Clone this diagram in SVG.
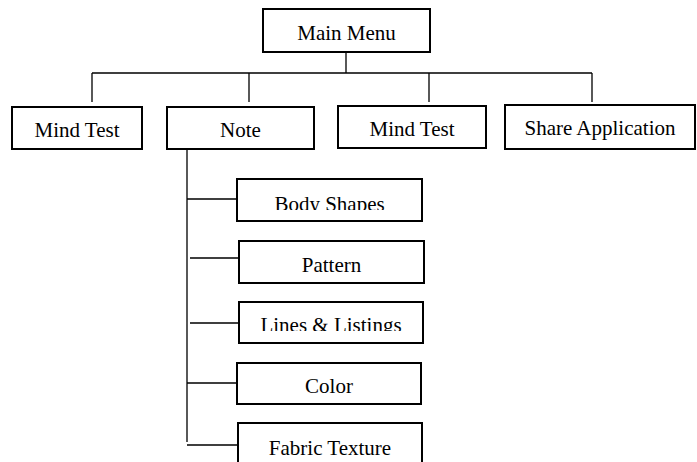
<svg xmlns="http://www.w3.org/2000/svg" width="697" height="462" viewBox="0 0 697 462">
<style>
.box{fill:#fff;stroke:#000;stroke-width:2}
.t{font-family:'Liberation Serif','Times New Roman',serif;font-size:21px;fill:#000;text-anchor:middle}
.c{stroke:#000;stroke-width:1.3;fill:none}
</style>
<defs>
<clipPath id="clipBody"><rect x="230" y="170" width="200" height="40"/></clipPath>
<clipPath id="clipLines"><rect x="230" y="295" width="200" height="36"/></clipPath>
</defs>
<rect width="697" height="462" fill="#fff"/>
<g id="connectors">
<path class="c" d="M346 52V73M92 73H592M92 73V102M249 73V102M429 73V102M592 73V102"/>
<path class="c" d="M187 149V442M187 199H237M190 258H239M190 323H239M187 383H237M187 445H238"/>
</g>
<g id="main-menu"><rect class="box" x="263" y="9" width="167" height="43"/><text class="t" x="346.5" y="40">Main Menu</text></g>
<g id="mind-test-1"><rect class="box" x="12" y="107" width="130" height="42"/><text class="t" x="77" y="137">Mind Test</text></g>
<g id="note"><rect class="box" x="167" y="107" width="147" height="42"/><text class="t" x="240.5" y="137">Note</text></g>
<g id="mind-test-2"><rect class="box" x="338" y="106" width="148" height="42"/><text class="t" x="412" y="136">Mind Test</text></g>
<g id="share-application"><rect class="box" x="505" y="105" width="190" height="44"/><text class="t" x="600" y="135">Share Application</text></g>
<g id="body-shapes"><rect class="box" x="237" y="179" width="185" height="42"/><text class="t" x="329.5" y="211" clip-path="url(#clipBody)">Body Shapes</text></g>
<g id="pattern"><rect class="box" x="239" y="241" width="185" height="42"/><text class="t" x="331.5" y="272">Pattern</text></g>
<g id="lines-listings"><rect class="box" x="239" y="302" width="184" height="41"/><text class="t" x="331" y="332" clip-path="url(#clipLines)">Lines &amp; Listings</text></g>
<g id="color"><rect class="box" x="237" y="363" width="184" height="41"/><text class="t" x="329" y="393">Color</text></g>
<g id="fabric-texture"><rect class="box" x="238" y="423" width="184" height="50"/><text class="t" x="330" y="455">Fabric Texture</text></g>
</svg>
